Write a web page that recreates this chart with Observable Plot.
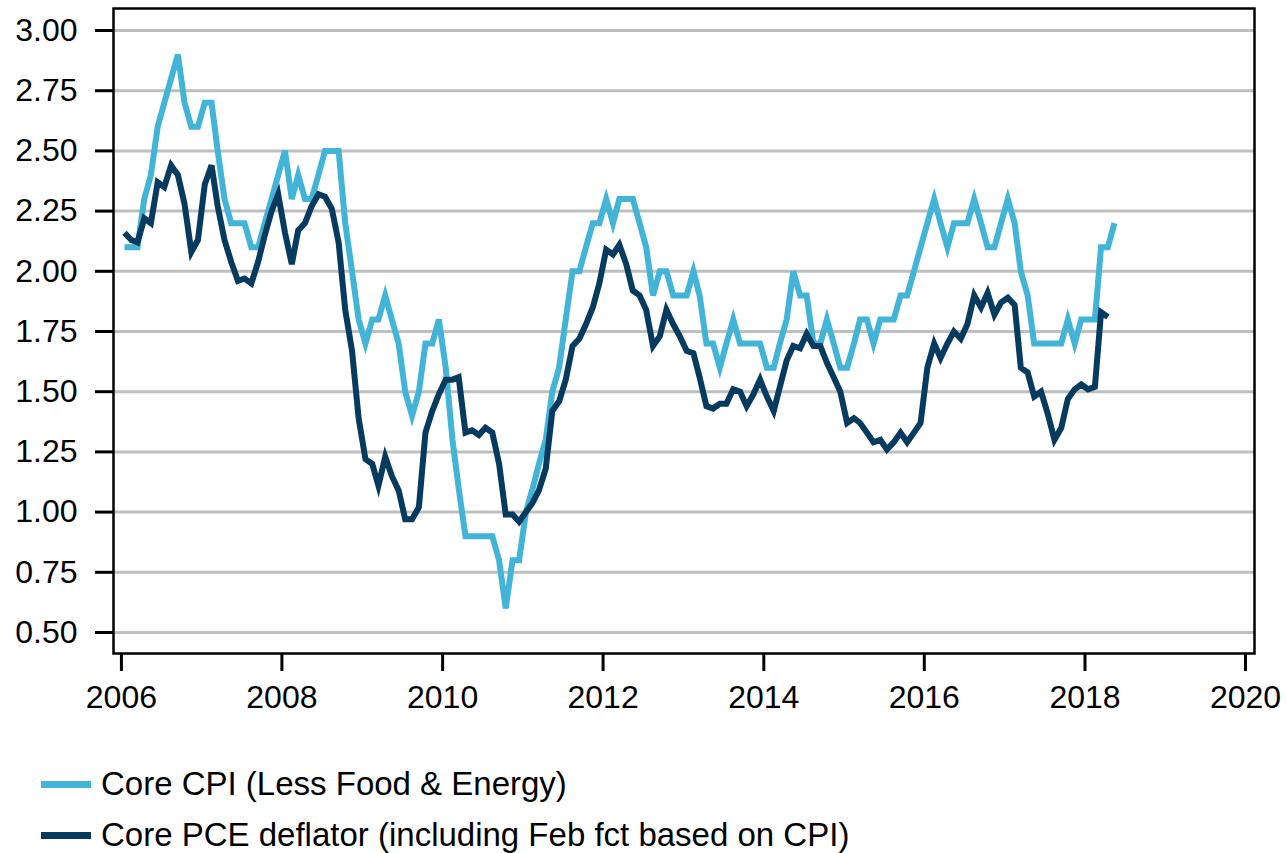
<!DOCTYPE html>
<html>
<head>
<meta charset="utf-8">
<script src="https://cdn.jsdelivr.net/npm/d3@7"></script>
<script src="https://cdn.jsdelivr.net/npm/@observablehq/plot@0.6"></script>
<style>
  html, body { margin: 0; padding: 0; background: #fff; }
  body { width: 1287px; height: 853px; overflow: hidden; font-family: "Liberation Sans", Arial, sans-serif; }
  #legend { padding-top: 18px; }
  .row { height: 51px; line-height: 51px; font-size: 33px; color: #000; white-space: nowrap; }
  .sw { display: inline-block; width: 50px; height: 7px; margin-left: 41px; margin-right: 10px; vertical-align: middle; position: relative; top: -2px; }
</style>
</head>
<body>
<div id="chart"></div>
<div id="legend"></div>
<script>
// Monthly series starting January 2006
const startYear = 2006;
const seriesNames = ["Core CPI (Less Food & Energy)", "Core PCE deflator (including Feb fct based on CPI)"];
const seriesColors = ["#42b4d7", "#063a5f"];

const cpiValues = [
  2.1,2.1,2.1,2.3,2.4,2.6,2.7,2.8,2.9,2.7,2.6,2.6,
  2.7,2.7,2.5,2.3,2.2,2.2,2.2,2.1,2.1,2.2,2.3,2.4,
  2.5,2.3,2.4,2.3,2.3,2.4,2.5,2.5,2.5,2.2,2.0,1.8,
  1.7,1.8,1.8,1.9,1.8,1.7,1.5,1.4,1.5,1.7,1.7,1.8,
  1.6,1.3,1.1,0.9,0.9,0.9,0.9,0.9,0.8,0.6,0.8,0.8,
  1.0,1.1,1.2,1.3,1.5,1.6,1.8,2.0,2.0,2.1,2.2,2.2,
  2.3,2.2,2.3,2.3,2.3,2.2,2.1,1.9,2.0,2.0,1.9,1.9,
  1.9,2.0,1.9,1.7,1.7,1.6,1.7,1.8,1.7,1.7,1.7,1.7,
  1.6,1.6,1.7,1.8,2.0,1.9,1.9,1.7,1.7,1.8,1.7,1.6,
  1.6,1.7,1.8,1.8,1.7,1.8,1.8,1.8,1.9,1.9,2.0,2.1,
  2.2,2.3,2.2,2.1,2.2,2.2,2.2,2.3,2.2,2.1,2.1,2.2,
  2.3,2.2,2.0,1.9,1.7,1.7,1.7,1.7,1.7,1.8,1.7,1.8,
  1.8,1.8,2.1,2.1,2.2
];

const pceValues = [
  2.16,2.13,2.12,2.22,2.20,2.37,2.35,2.44,2.40,2.28,2.08,2.13,
  2.36,2.44,2.27,2.13,2.04,1.96,1.97,1.95,2.04,2.15,2.25,2.32,
  2.16,2.03,2.17,2.20,2.27,2.32,2.31,2.26,2.12,1.84,1.67,1.39,
  1.22,1.20,1.11,1.23,1.15,1.09,0.97,0.97,1.02,1.33,1.42,1.49,
  1.55,1.55,1.56,1.33,1.34,1.32,1.35,1.33,1.20,0.99,0.99,0.96,
  1.00,1.04,1.09,1.18,1.42,1.46,1.55,1.69,1.72,1.78,1.85,1.95,
  2.09,2.07,2.11,2.03,1.92,1.90,1.84,1.69,1.73,1.84,1.78,1.73,
  1.67,1.66,1.56,1.44,1.43,1.45,1.45,1.51,1.50,1.44,1.49,1.55,
  1.48,1.42,1.52,1.63,1.69,1.68,1.74,1.69,1.69,1.62,1.56,1.50,
  1.37,1.39,1.37,1.33,1.29,1.30,1.26,1.29,1.33,1.29,1.33,1.37,
  1.60,1.70,1.64,1.70,1.75,1.72,1.78,1.90,1.85,1.91,1.82,1.87,
  1.89,1.86,1.60,1.58,1.48,1.50,1.41,1.30,1.35,1.47,1.51,1.53,
  1.51,1.52,1.83,1.81
];

const yTicks = [0.5,0.75,1.0,1.25,1.5,1.75,2.0,2.25,2.5,2.75,3.0];
const xTickYears = [2006,2008,2010,2012,2014,2016,2018,2020];

const toRows = (vals) => vals.map((v, i) => ({date: new Date(Date.UTC(startYear, i, 15)), value: v}));
const cpi = toRows(cpiValues);
const pce = toRows(pceValues);
const xTicks = xTickYears.map(y => new Date(Date.UTC(y, 0, 1)));

const chart = Plot.plot({
  width: 1287,
  height: 740,
  marginLeft: 113,
  marginRight: 33,
  marginTop: 8,
  marginBottom: 87,
  style: {fontFamily: "'Liberation Sans', Arial, sans-serif", fontSize: "32px", color: "#000", background: "#fff"},
  x: {type: "utc", domain: [new Date(Date.UTC(2005, 10, 26)), new Date(Date.UTC(2020, 1, 11))]},
  y: {domain: [0.4128, 3.0914]},
  marks: [
    Plot.ruleY(yTicks, {stroke: "#bfbfbf", strokeWidth: 3, strokeOpacity: 1}),
    Plot.lineY(cpi, {x: "date", y: "value", stroke: seriesColors[0], strokeWidth: 6, strokeLinejoin: "miter", strokeLinecap: "butt", strokeMiterlimit: 4}),
    Plot.lineY(pce, {x: "date", y: "value", stroke: seriesColors[1], strokeWidth: 6, strokeLinejoin: "miter", strokeLinecap: "butt", strokeMiterlimit: 4}),
    Plot.frame({stroke: "#000", strokeWidth: 2.5}),
    Plot.axisY({ticks: yTicks, tickFormat: d3.format(".2f"), tickSize: 18, tickPadding: 18, fontSize: 32, strokeWidth: 3, label: null}),
    Plot.axisX({ticks: xTicks, tickFormat: d3.utcFormat("%Y"), tickSize: 18, tickPadding: 14, fontSize: 32, strokeWidth: 3, label: null})
  ]
});
document.getElementById("chart").appendChild(chart);

const legend = document.getElementById("legend");
seriesNames.forEach((name, i) => {
  const row = document.createElement("div");
  row.className = "row";
  const sw = document.createElement("span");
  sw.className = "sw";
  sw.style.background = seriesColors[i];
  row.appendChild(sw);
  row.appendChild(document.createTextNode(name));
  legend.appendChild(row);
});
</script>
</body>
</html>
